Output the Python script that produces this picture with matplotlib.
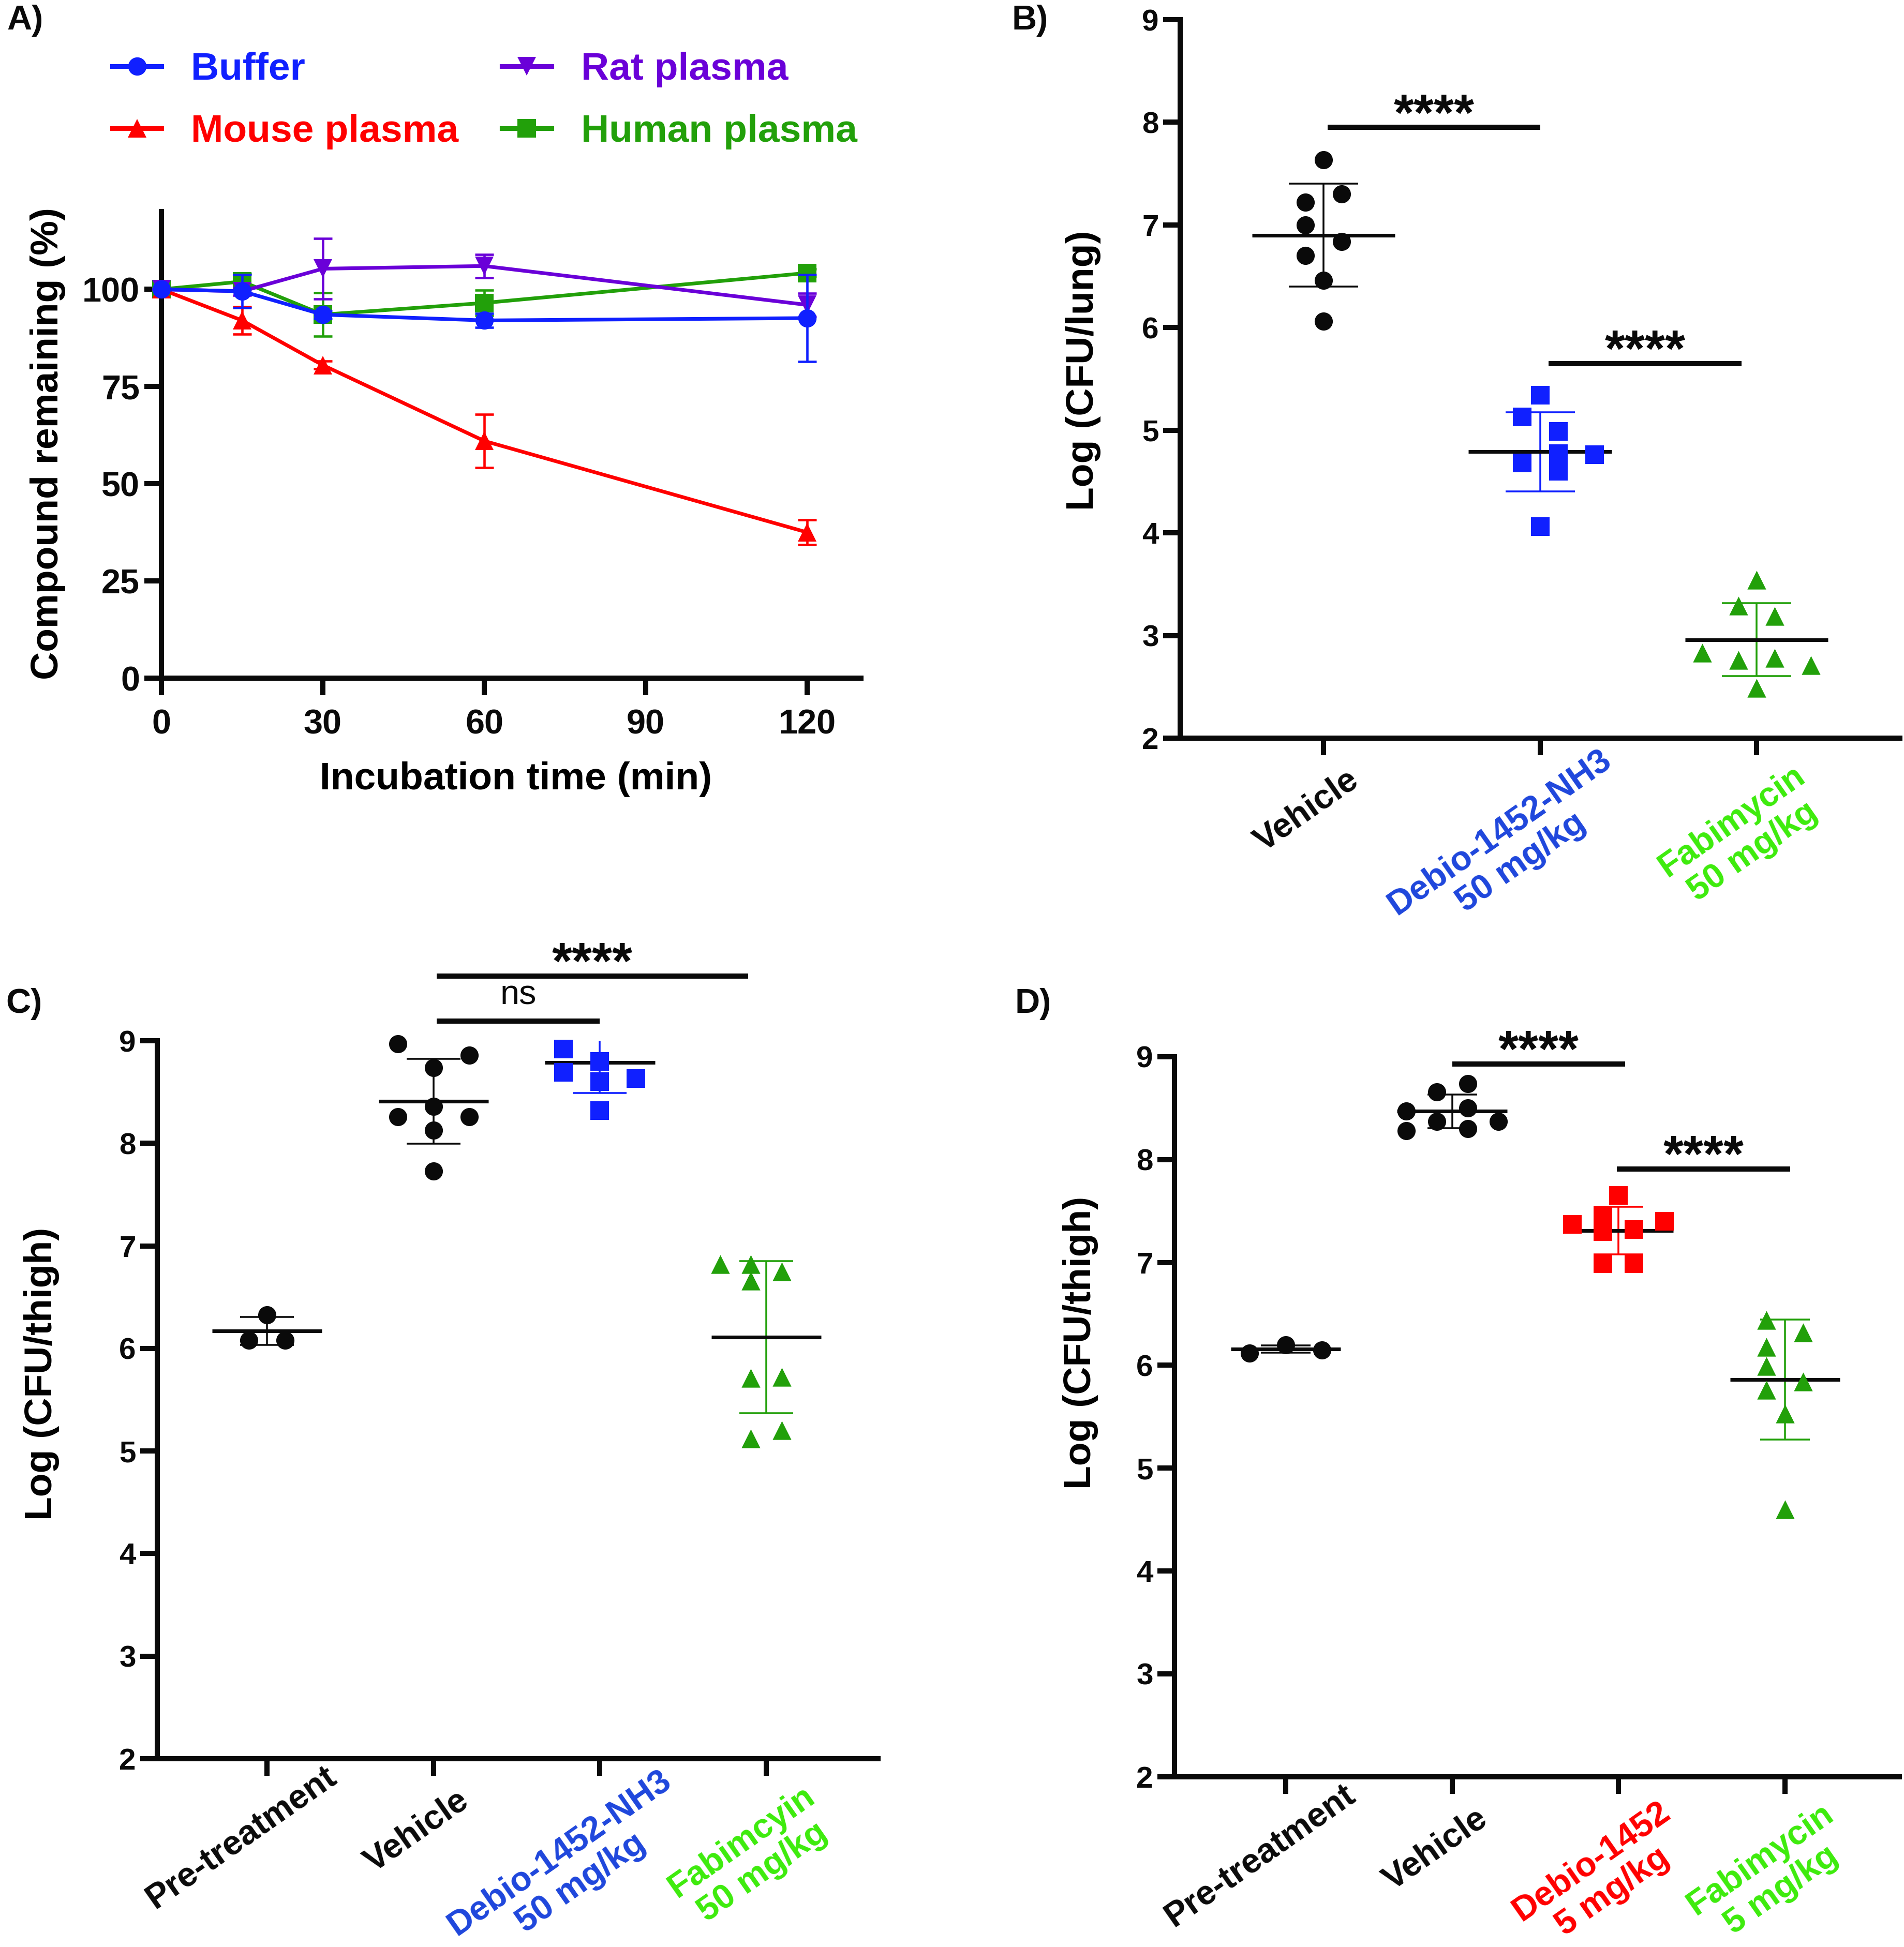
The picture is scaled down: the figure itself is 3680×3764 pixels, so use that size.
import numpy as np
import matplotlib
matplotlib.use("Agg")
import matplotlib.pyplot as plt
from matplotlib.lines import Line2D
from matplotlib.transforms import ScaledTranslation

plt.rcParams['font.family'] = ['Liberation Sans', 'DejaVu Sans']
plt.rcParams['font.weight'] = 'bold'

# ---------------- data: panel A ----------------
time_min = [0, 15, 30, 60, 120]
buffer_mean = [100.0, 99.5, 93.5, 92.0, 92.6]
buffer_sd = [0.0, 4.3, 1.0, 1.8, 11.2]
mouse_mean = [100.0, 92.0, 80.5, 61.0, 37.5]
mouse_sd = [0.0, 3.5, 1.0, 6.8, 3.2]
rat_mean = [100.0, 99.5, 105.3, 106.0, 96.0]
rat_sd = [0.0, 1.0, 7.8, 3.0, 3.0]
human_mean = [100.0, 102.0, 93.5, 96.5, 104.2]
human_sd = [0.0, 2.0, 5.6, 3.3, 1.0]
a_xticks = [0, 30, 60, 90, 120]
a_yticks = [0, 25, 50, 75, 100]

# ---------------- data: panel B ----------------
b_groups = ["Vehicle", "Debio-1452-NH3\n50 mg/kg", "Fabimycin\n50 mg/kg"]
b_vehicle = [7.635, 7.30, 7.22, 7.00, 6.84, 6.70, 6.46, 6.06]
b_debio = [5.34, 5.13, 4.99, 4.77, 4.60, 4.76, 4.68, 4.06]
b_fabi = [3.54, 3.29, 3.19, 2.83, 2.76, 2.78, 2.71, 2.49]
b_mean = [6.90, 4.79, 2.96]
b_sd = [0.50, 0.385, 0.355]

# ---------------- data: panel C ----------------
c_groups = ["Pre-treatment", "Vehicle", "Debio-1452-NH3\n50 mg/kg", "Fabimcyin\n50 mg/kg"]
c_pre = [6.325, 6.08, 6.08]
c_vehicle = [8.97, 8.86, 8.74, 8.36, 8.26, 8.26, 8.13, 7.73]
c_debio = [8.92, 8.69, 8.80, 8.60, 8.63, 8.32]
c_fabi = [6.82, 6.82, 6.66, 6.75, 5.71, 5.72, 5.20, 5.12]
c_mean = [6.17, 8.41, 8.79, 6.11]
c_sd = [0.135, 0.415, 0.30, 0.74]

# ---------------- data: panel D ----------------
d_groups = ["Pre-treatment", "Vehicle", "Debio-1452\n5 mg/kg", "Fabimycin\n5 mg/kg"]
d_pre = [6.115, 6.20, 6.15]
d_vehicle = [8.74, 8.66, 8.47, 8.50, 8.37, 8.37, 8.28, 8.30]
d_debio = [7.65, 7.37, 7.45, 7.40, 7.32, 7.30, 6.99, 6.99]
d_fabi = [6.44, 6.32, 6.18, 5.99, 5.84, 5.76, 5.53, 4.60]
d_mean = [6.16, 8.47, 7.31, 5.86]
d_sd = [0.035, 0.165, 0.23, 0.585]

log_ticks = [2, 3, 4, 5, 6, 7, 8, 9]

# ---------------- layout (pixels of the 3680x3764 canvas) ----------------
W, H, DPI = 3680, 3764, 300
PT = DPI / 72.0
BLACK = '#0a0a0a'
BLUE = '#1020ff'
RED = '#ff0000'
GREEN = '#22a00a'
PURPLE = '#6a00d8'
LBLUE = '#1e46dc'
LGREEN = '#3deb0c'

# horizontal jitter of points (pixels), layout only
b_off = [[0, 35, -35, -35, 35, -35, 0, 0],
         [0, -35, 35, 35, 35, 105, -35, 0],
         [0, -35, 35, -105, -35, 35, 105, 0]]
c_off = [[0, -35, 35],
         [-69, 69, 0, 0, -69, 69, 0, 0],
         [-70, -70, 0, 0, 70, 0],
         [-89, -30, -30, 30, -30, 30, 30, -30]]
d_off = [[-70, 0, 70],
         [30, -30, -89, 30, -30, 89, -89, 30],
         [0, -89, -30, 89, 30, -30, -30, 30],
         [-36, 35, -36, -36, 35, -36, 0, 0]]

fig = plt.figure(figsize=(W / DPI, H / DPI), dpi=DPI)
renderer = fig.canvas.get_renderer()


def add_axes_px(left, right, bottom, top):
    return fig.add_axes([left / W, 1 - bottom / H, (right - left) / W, (bottom - top) / H])


def style_axes(ax, labelsize):
    for s in ['top', 'right']:
        ax.spines[s].set_visible(False)
    for s in ['left', 'bottom']:
        ax.spines[s].set_linewidth(2.4)
        ax.spines[s].set_color(BLACK)
    ax.tick_params(axis='both', direction='out', length=7.9, width=2.4, color=BLACK,
                   labelsize=labelsize, labelcolor=BLACK)


# ======================= Panel A =======================
axA = add_axes_px(312, 1664, 1311, 409)
style_axes(axA, 16)
axA.set_xlim(0, 130)
axA.set_ylim(0, 120)
axA.set_xticks(a_xticks)
axA.set_yticks(a_yticks)
axA.tick_params(axis='x', pad=6.3)
axA.tick_params(axis='y', pad=2.2)
for lab in axA.get_xticklabels() + axA.get_yticklabels():
    lab.set_fontweight('bold')

series = [
    (human_mean, human_sd, GREEN, 's'),
    (rat_mean, rat_sd, PURPLE, 'v'),
    (mouse_mean, mouse_sd, RED, '^'),
    (buffer_mean, buffer_sd, BLUE, 'o'),
]
for k, (m, sd, col, mk) in enumerate(series):
    axA.plot(time_min, m, color=col, marker=mk, markersize=8.5, markeredgewidth=0,
             lw=1.7, clip_on=False, zorder=3 + 2 * k)
    axA.errorbar(time_min, m, yerr=sd, fmt='none', ecolor=col, elinewidth=1.1,
                 capsize=4.3, capthick=1.1, clip_on=False, zorder=3.5 + 2 * k)

axA.set_xlabel('Incubation time (min)', fontsize=18, fontweight='bold')
axA.xaxis.set_label_coords(0.507, -0.1785)
axA.set_ylabel('Compound remaining (%)', fontsize=18, fontweight='bold')
axA.yaxis.set_label_coords(-0.137, 0.503)

handles = [
    Line2D([], [], color=BLUE, marker='o', markersize=8.5, markeredgewidth=0, lw=2.2),
    Line2D([], [], color=RED, marker='^', markersize=8.5, markeredgewidth=0, lw=2.2),
    Line2D([], [], color=PURPLE, marker='v', markersize=8.5, markeredgewidth=0, lw=2.2),
    Line2D([], [], color=GREEN, marker='s', markersize=8.5, markeredgewidth=0, lw=2.2),
]
names = ['Buffer', 'Mouse plasma', 'Rat plasma', 'Human plasma']
leg = fig.legend(handles, names, ncol=2, loc='upper left',
                 bbox_to_anchor=(217 / W, 1 - 100 / H), frameon=False,
                 borderpad=0, borderaxespad=0, handlelength=1.27, handletextpad=0.76,
                 columnspacing=1.12, labelspacing=0.68, numpoints=1,
                 prop={'size': 18, 'weight': 'bold'})
for txt, col in zip(leg.get_texts(), [BLUE, RED, PURPLE, GREEN]):
    txt.set_color(col)


# ======================= helpers for dot plots =======================
def dot_panel(ax, rect_w_px, xlim, groups_vals, offsets, means, sds, colors, markers,
              capsize):
    cat_per_px = (xlim[1] - xlim[0]) / rect_w_px
    for i, (vals, offs, col, mk) in enumerate(zip(groups_vals, offsets, colors, markers)):
        ax.errorbar([i], [means[i]], yerr=[sds[i]], fmt='none', ecolor=col,
                    elinewidth=0.85, capsize=capsize, capthick=0.85, zorder=2)
        ax.hlines(means[i], i - 0.33, i + 0.33, colors=BLACK, lw=1.7, zorder=3)
        xs = i + np.asarray(offs) * cat_per_px
        size = 71 if mk == 'o' else 76
        ax.scatter(xs, vals, s=size, marker=mk, color=col, linewidths=0,
                   zorder=4, clip_on=False)


def text_width_px(s):
    t = fig.text(0, 0, s, fontsize=16, fontweight='bold')
    w = t.get_window_extent(renderer=renderer).width
    t.remove()
    return w


ANG = 35.0
UX, UY = np.cos(np.radians(ANG)), np.sin(np.radians(ANG))


def cat_labels(ax, labels, colors):
    for i, (lab, col) in enumerate(zip(labels, colors)):
        first = lab.split('\n')[0]
        w1 = text_width_px(first)
        if '\n' in lab:
            dx, dy = 108.0, -14.0
            along = 0.3 * w1 - 146.0
        else:
            dx, dy = 44.0, -50.0
            along = 0.4 * w1 - 92.0
        dx += along * UX
        dy += along * UY
        tr = ax.get_xaxis_transform() + ScaledTranslation(dx / DPI, dy / DPI,
                                                          fig.dpi_scale_trans)
        ax.text(i, 0, lab, transform=tr, rotation=ANG, rotation_mode='anchor',
                ha='right', va='top', multialignment='center', color=col,
                fontsize=16, fontweight='bold', clip_on=False)


def sig_bar(ax, x0, x1, y, text):
    ax.plot([x0, x1], [y, y], color=BLACK, lw=2.4, solid_capstyle='butt',
            clip_on=False, zorder=5)
    if text == 'ns':
        ax.annotate(text, xy=((x0 + x1) / 2, y), xytext=(0, 33 / PT),
                    textcoords='offset points', ha='center', va='baseline',
                    fontsize=16, fontweight='normal', color=BLACK, annotation_clip=False)
    else:
        ax.annotate(text, xy=((x0 + x1) / 2, y), xytext=(0, -5 / PT),
                    textcoords='offset points', ha='center', va='baseline',
                    fontsize=24, fontweight='bold', color=BLACK, annotation_clip=False)


def log_axes(ax, xlim, n):
    style_axes(ax, 14)
    ax.set_xlim(*xlim)
    ax.set_ylim(2, 9)
    ax.set_yticks(log_ticks)
    ax.set_xticks(range(n))
    ax.set_xticklabels([''] * n)
    ax.tick_params(axis='y', pad=2.0)
    for lab in ax.get_yticklabels():
        lab.set_fontweight('bold')


# ======================= Panel B =======================
bx = (-0.662, 2.662)
axB = add_axes_px(2281, 3672, 1427, 38)
log_axes(axB, bx, 3)
dot_panel(axB, 3672 - 2281, bx, [b_vehicle, b_debio, b_fabi], b_off, b_mean, b_sd,
          [BLACK, BLUE, GREEN], ['o', 's', '^'], 16)
cat_labels(axB, b_groups, [BLACK, LBLUE, LGREEN])
sig_bar(axB, 0.02, 1.00, 7.95, '****')
sig_bar(axB, 1.04, 1.93, 5.65, '****')
axB.set_ylabel('Log (CFU/lung)', fontsize=18, fontweight='bold')
axB.yaxis.set_label_coords(-0.110, 0.512)

# ======================= Panel C =======================
cx = (-0.659, 3.671)
axC = add_axes_px(304, 1697, 3400, 2012)
log_axes(axC, cx, 4)
dot_panel(axC, 1697 - 304, cx, [c_pre, c_vehicle, c_debio, c_fabi], c_off, c_mean, c_sd,
          [BLACK, BLACK, BLUE, GREEN], ['o', 'o', 's', '^'], 12.5)
cat_labels(axC, c_groups, [BLACK, BLACK, LBLUE, LGREEN])
sig_bar(axC, 1.02, 2.89, 9.63, '****')
sig_bar(axC, 1.02, 2.00, 9.19, 'ns')
axC.set_ylabel('Log (CFU/thigh)', fontsize=18, fontweight='bold')
axC.yaxis.set_label_coords(-0.136, 0.536)

# ======================= Panel D =======================
dxl = (-0.668, 3.687)
axD = add_axes_px(2270, 3671, 3434.5, 2043)
log_axes(axD, dxl, 4)
dot_panel(axD, 3671 - 2270, dxl, [d_pre, d_vehicle, d_debio, d_fabi], d_off, d_mean, d_sd,
          [BLACK, BLACK, RED, GREEN], ['o', 'o', 's', '^'], 11.5)
cat_labels(axD, d_groups, [BLACK, BLACK, RED, LGREEN])
sig_bar(axD, 1.00, 2.04, 8.93, '****')
sig_bar(axD, 1.99, 3.03, 7.91, '****')
axD.set_ylabel('Log (CFU/thigh)', fontsize=18, fontweight='bold')
axD.yaxis.set_label_coords(-0.105, 0.603)

# ======================= panel letters =======================
for txt, x, y in [('A)', 13, 57), ('B)', 1955, 57), ('C)', 11, 1958), ('D)', 1961, 1958)]:
    fig.text(x / W, 1 - y / H, txt, ha='left', va='baseline', fontsize=16,
             fontweight='bold', color=BLACK)

fig.savefig('out.png', dpi=DPI)
